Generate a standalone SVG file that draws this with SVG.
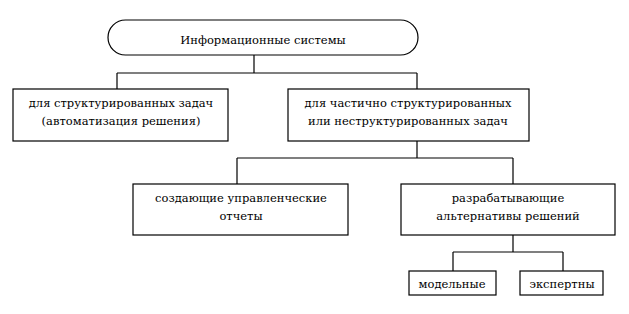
<svg xmlns="http://www.w3.org/2000/svg" width="629" height="314" viewBox="0 0 629 314">
<style>
.box{fill:#fff;stroke:#000;stroke-width:1.2}
.ln{fill:none;stroke:#000;stroke-width:1.2}
.t{font-family:'DejaVu Serif','Liberation Serif',serif;font-size:11.5px;fill:#000;text-anchor:middle}
</style>
<rect width="629" height="314" fill="#fff"/>
<g id="connectors">
<path class="ln" d="M254 55V73M117 73H417M117 73V89M417 73V89"/>
<path class="ln" d="M417 141V158M237 158H513M237 158V184M513 158V184"/>
<path class="ln" d="M513 235V252M453 252H563M453 252V271M563 252V271"/>
</g>
<g id="n-root">
<rect class="box" x="108" y="20" width="310" height="35" rx="17.5"/>
<text class="t" x="263" y="44">Информационные системы</text>
</g>
<g id="n-struct">
<rect class="box" x="13" y="89" width="215" height="52"/>
<text class="t" x="121" y="107">для структурированных задач</text>
<text class="t" x="121" y="125">(автоматизация решения)</text>
</g>
<g id="n-semi">
<rect class="box" x="288" y="89" width="241" height="52"/>
<text class="t" x="408" y="107">для частично структурированных</text>
<text class="t" x="408" y="125">или неструктурированных задач</text>
</g>
<g id="n-reports">
<rect class="box" x="133" y="184" width="215" height="51"/>
<text class="t" x="241" y="202">создающие управленческие</text>
<text class="t" x="241" y="220">отчеты</text>
</g>
<g id="n-alt">
<rect class="box" x="401" y="184" width="214" height="51"/>
<text class="t" x="508" y="202">разрабатывающие</text>
<text class="t" x="508" y="220">альтернативы решений</text>
</g>
<g id="n-model">
<rect class="box" x="409" y="271" width="87" height="24"/>
<text class="t" x="452" y="288">модельные</text>
</g>
<g id="n-expert">
<rect class="box" x="520" y="271" width="83" height="24"/>
<text class="t" x="562" y="288">экспертны</text>
</g>
</svg>
